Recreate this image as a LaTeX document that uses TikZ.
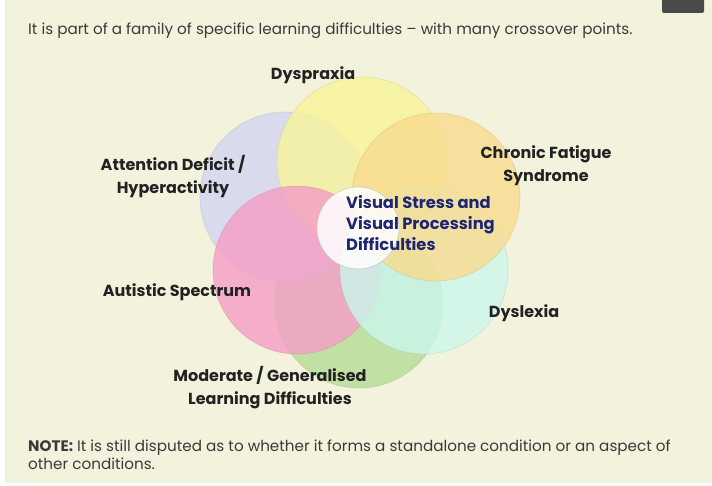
\documentclass[tikz,border=0pt]{standalone}
\usepackage{fontspec}
\setmainfont{Poppins}
\usepackage{tikz}
\usetikzlibrary{positioning}
\definecolor{slideCream}{HTML}{F3F2DD}
\definecolor{textDark}{HTML}{222222}
\definecolor{textGray}{HTML}{3A3A3A}
\definecolor{navyText}{HTML}{1E2674}
\definecolor{btnGray}{HTML}{4A4A4A}
\definecolor{lavBlue}{HTML}{D3D6F2}
\definecolor{paleYellow}{HTML}{F8F598}
\definecolor{peachGold}{HTML}{F9DB8E}
\definecolor{rosePink}{HTML}{F59DC6}
\definecolor{mintCyan}{HTML}{CBF7EC}
\definecolor{leafGreen}{HTML}{B4DC96}
\tikzset{
    % Venn Styles
    vennCircle/.style={fill=#1, fill opacity=0.8, draw=#1!80!black, draw opacity=0.3, line width=0.8pt},
    centreCircle/.style={fill=white, fill opacity=0.85, draw=gray!40, line width=0.6pt},
    % Text Styles
    areaLabel/.style={font=\bfseries\fontsize{16}{23}\selectfont, text=textDark, align=center, inner sep=0pt},
    centreLabel/.style={font=\bfseries\fontsize{16.3}{21}\selectfont, text=navyText, align=left, inner sep=0pt},
    slideText/.style={font=\fontsize{15.2}{17.5}\selectfont, text=textGray, align=left, inner sep=0pt}
}
\begin{document}
\begin{tikzpicture}[x=1pt, y=-1pt]
        \useasboundingbox (0,0) rectangle (712,486);
        % Slide
        \fill[white] (0,0) rectangle (712,486);
        \fill[slideCream] (5,0) rectangle (712,483);
        \fill[btnGray, rounded corners=2pt] (662,-4) rectangle (704,13);
        
        % Heading
        \node[slideText, anchor=west] (heading) at (28,31) {It is part of a family of specific learning difficulties -- with many crossover points.};
        
        % Six circles
        \draw[vennCircle=leafGreen] (359,304) circle (84);
        \draw[vennCircle=lavBlue] (285,197) circle (85);
        \draw[vennCircle=paleYellow] (362,162) circle (85);
        \draw[vennCircle=rosePink] (297,270) circle (84);
        \draw[vennCircle=mintCyan] (424,270) circle (84);
        \draw[vennCircle=peachGold] (436,197) circle (84);
        
        % Centre
        \draw[centreCircle] (358,228) circle (41);
        \node[centreLabel, anchor=north west] (visual) at (346,195) {Visual Stress and\\Visual Processing\\Difficulties};
        
        % Labels
        \node[areaLabel] (dyspraxia) at (313,75) {Dyspraxia};
        \node[areaLabel] (attention) at (173,177) {Attention Deficit /\\Hyperactivity};
        \node[areaLabel] (chronic) at (546,166) {Chronic Fatigue\\Syndrome};
        \node[areaLabel] (autistic) at (177,292) {Autistic Spectrum};
        \node[areaLabel] (dyslexia) at (524,313) {Dyslexia};
        \node[areaLabel] (moderate) at (270,388) {Moderate / Generalised\\Learning Difficulties};
        
        % Note
        \node[slideText, anchor=north west] (note) at (28,440) {\textbf{NOTE:} It is still disputed as to whether it forms a standalone condition or an aspect of\\other conditions.};
    \end{tikzpicture}
\end{document}
